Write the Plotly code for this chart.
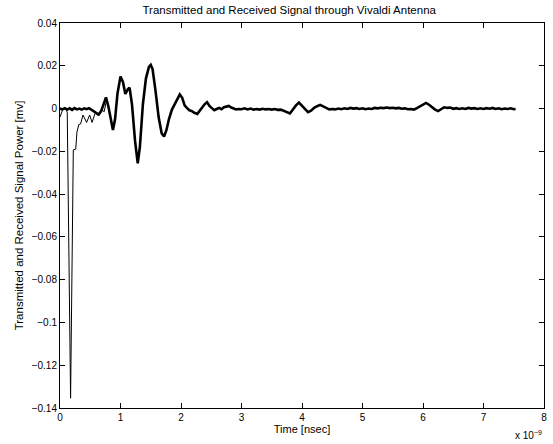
import plotly.graph_objects as go

# Received signal (thick line): time [ns], amplitude
rx_t_main = [0.00, 0.04, 0.08, 0.12, 0.16, 0.20, 0.24, 0.28, 0.32, 0.36, 0.40, 0.44, 0.48, 0.52,
             0.56, 0.60, 0.64, 0.68, 0.72, 0.76, 0.80, 0.84, 0.875, 0.91, 0.95, 1.00, 1.04, 1.08,
             1.12, 1.15, 1.19, 1.24, 1.285, 1.32, 1.37, 1.42, 1.47, 1.50, 1.53, 1.58, 1.63, 1.68,
             1.72, 1.76, 1.80, 1.85, 1.89, 1.94, 1.98, 2.02, 2.06, 2.10, 2.14, 2.18, 2.22, 2.27,
             2.31, 2.35, 2.39, 2.43, 2.47, 2.51, 2.55, 2.59, 2.63, 2.67, 2.71, 2.75, 2.79, 2.83,
             2.87, 2.91, 2.95]
rx_v_main = [0.0000, -0.0004, 0.0002, -0.0005, 0.0001, -0.0006, 0.0002, -0.0004, 0.0000, -0.0005,
             0.0001, -0.0003, 0.0002, -0.0005, -0.0016, -0.0022, -0.0028, -0.0012, 0.0025, 0.0052,
             0.0010, -0.0060, -0.0100, -0.0050, 0.0070, 0.0150, 0.0125, 0.0068, 0.0090, 0.0098,
             0.0020, -0.0150, -0.0256, -0.0180, 0.0020, 0.0140, 0.0195, 0.0204, 0.0185, 0.0080,
             -0.0040, -0.0115, -0.0131, -0.0100, -0.0050, -0.0005, 0.0017, 0.0045, 0.0066, 0.0050,
             0.0015, 0.0002, -0.0008, -0.0012, -0.0020, -0.0025, -0.0010, 0.0008, 0.0020, 0.0030,
             0.0012, 0.0002, -0.0008, -0.0002, 0.0003, -0.0003, 0.0006, 0.0009, 0.0012, 0.0005,
             0.0001, -0.0004, -0.0002]
rx_t_tail = [3.00, 3.05, 3.10, 3.15, 3.20, 3.25, 3.30, 3.35, 3.40, 3.45, 3.50, 3.55, 3.60, 3.65,
             3.70, 3.75, 3.80, 3.85, 3.90, 3.95, 4.00, 4.05, 4.10, 4.15, 4.20, 4.25, 4.30, 4.35,
             4.40, 4.45, 4.50, 4.55, 4.60, 4.65, 4.70, 4.75, 4.80, 4.85, 4.90, 4.95, 5.00, 5.05,
             5.10, 5.15, 5.20, 5.25, 5.30, 5.35, 5.40, 5.45, 5.50, 5.55, 5.60, 5.65, 5.70, 5.75,
             5.80, 5.85, 5.90, 5.95, 6.00, 6.05, 6.10, 6.15, 6.20, 6.25, 6.30, 6.35, 6.40, 6.45,
             6.50, 6.55, 6.60, 6.65, 6.70, 6.75, 6.80, 6.85, 6.90, 6.95, 7.00, 7.05, 7.10, 7.15,
             7.20, 7.25, 7.30, 7.35, 7.40, 7.45, 7.50, 7.53]
rx_v_tail = [-0.0003, 0.0001, -0.0004, 0.0000, -0.0005, -0.0002, -0.0005, -0.0001, -0.0004, -0.0002,
             -0.0005, -0.0002, -0.0006, -0.0005, -0.0010, -0.0017, -0.0023, -0.0004, 0.0015, 0.0028,
             0.0014, -0.0004, -0.0017, -0.0010, 0.0003, 0.0011, 0.0017, 0.0010, 0.0002, -0.0004,
             -0.0002, -0.0004, 0.0000, -0.0003, 0.0001, -0.0002, 0.0003, 0.0000, 0.0002, -0.0002,
             0.0001, -0.0003, 0.0000, -0.0002, 0.0003, 0.0001, 0.0004, 0.0002, 0.0005, 0.0002,
             0.0004, 0.0001, 0.0003, -0.0001, 0.0001, -0.0003, -0.0002, -0.0005, 0.0002, 0.0011,
             0.0017, 0.0026, 0.0018, 0.0006, -0.0005, -0.0012, -0.0004, 0.0006, 0.0003, 0.0005,
             -0.0001, 0.0002, -0.0002, 0.0001, -0.0002, 0.0003, 0.0000, 0.0002, -0.0002, 0.0001,
             -0.0002, 0.0002, -0.0001, 0.0003, -0.0002, 0.0001, -0.0003, 0.0000, -0.0002, 0.0001,
             -0.0003, -0.0002]

# Transmitted signal (thin line)
tx_t = [0.00, 0.03, 0.05, 0.08, 0.10, 0.12, 0.175, 0.22, 0.26, 0.28, 0.31, 0.34, 0.38, 0.44,
        0.49, 0.53, 0.58, 0.63, 0.69, 0.73, 0.77, 0.80]
tx_v = [-0.0040, -0.0008, 0.0000, -0.0002, 0.0000, -0.0020, -0.1354, -0.0193, -0.0190, -0.0110,
        -0.0075, -0.0072, -0.0030, -0.0065, -0.0030, -0.0065, -0.0022, -0.0032, -0.0005, -0.0015,
        0.0040, 0.0010]

x_ticks = [0, 1, 2, 3, 4, 5, 6, 7, 8]
y_ticks = [0.04, 0.02, 0, -0.02, -0.04, -0.06, -0.08, -0.1, -0.12, -0.14]
y_labels = ["0.04", "0.02", "0", "\u22120.02", "\u22120.04", "\u22120.06", "\u22120.08",
            "\u22120.1", "\u22120.12", "\u22120.14"]

FONT = "Liberation Sans, Arial, Helvetica, sans-serif"

fig = go.Figure()
fig.add_trace(go.Scatter(x=tx_t, y=tx_v, mode="lines",
                         line=dict(color="black", width=1), showlegend=False))
fig.add_trace(go.Scatter(x=rx_t_main + rx_t_tail, y=rx_v_main + rx_v_tail, mode="lines",
                         line=dict(color="black", width=2.6), showlegend=False))

axis_common = dict(showgrid=False, zeroline=False, showline=True, linecolor="black", linewidth=1,
                   mirror="ticks", ticks="inside", ticklen=5, tickcolor="black", tickwidth=1,
                   tickfont=dict(family=FONT, size=10, color="black"))

fig.update_layout(
    width=553, height=444,
    margin=dict(l=60, r=6, t=23, b=36),
    paper_bgcolor="white", plot_bgcolor="white",
    title=dict(text="Transmitted and Received Signal through Vivaldi Antenna",
               x=0.523, xanchor="center", y=1 - 10 / 444, yanchor="middle", yref="container",
               font=dict(family=FONT, size=11.5, color="black")),
    xaxis=dict(range=[0, 8], tickvals=x_ticks, ticktext=[str(v) for v in x_ticks],
               title=dict(text="Time [nsec]", font=dict(family=FONT, size=11, color="black"), standoff=3),
               **axis_common),
    yaxis=dict(range=[-0.14, 0.04], tickvals=y_ticks, ticktext=y_labels,
               title=dict(text="Transmitted and Received Signal Power [mv]",
                          font=dict(family=FONT, size=11.5, color="black"), standoff=5),
               **axis_common),
)
fig.add_annotation(x=1.0, y=-0.07, xref="paper", yref="paper", xanchor="right", yanchor="middle",
                   text="x 10<sup>\u22129</sup>", showarrow=False,
                   font=dict(family=FONT, size=10, color="black"))

fig.write_html("out.html")
